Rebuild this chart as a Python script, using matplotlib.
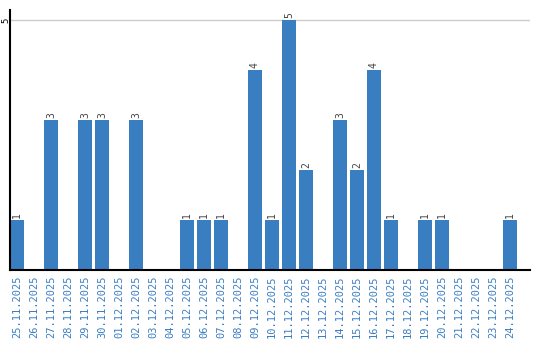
import matplotlib
matplotlib.use("Agg")
import matplotlib.pyplot as plt

dates = ["25.11.2025", "26.11.2025", "27.11.2025", "28.11.2025", "29.11.2025",
         "30.11.2025", "01.12.2025", "02.12.2025", "03.12.2025", "04.12.2025",
         "05.12.2025", "06.12.2025", "07.12.2025", "08.12.2025", "09.12.2025",
         "10.12.2025", "11.12.2025", "12.12.2025", "13.12.2025", "14.12.2025",
         "15.12.2025", "16.12.2025", "17.12.2025", "18.12.2025", "19.12.2025",
         "20.12.2025", "21.12.2025", "22.12.2025", "23.12.2025", "24.12.2025"]
counts = [1, 0, 3, 0, 3, 3, 0, 3, 0, 0,
          1, 1, 1, 0, 4, 1, 5, 2, 0, 3,
          2, 4, 1, 0, 1, 1, 0, 0, 0, 1]
ytick = 5

blue = "#3a7ec2"

fig = plt.figure(figsize=(5.4, 3.4), dpi=100)
ax = fig.add_axes([10/540, 1 - 270/340, 520/540, 260/340])

x = list(range(len(dates)))
ax.bar(x, counts, width=0.82, color=blue, zorder=2)

for xi, v in zip(x, counts):
    if v > 0:
        ax.text(xi, v + 0.04, str(v), rotation=90, ha="center", va="bottom",
                fontsize=7, color="#444444", family="DejaVu Sans Mono")

ax.set_xlim(-0.41, 30.18)
ax.set_ylim(0, 5.2)
ax.set_yticks([ytick])
ax.set_yticklabels([])
# y tick label drawn by hand so it sits in the narrow left margin
ax.text(-4.5/520, ytick, str(ytick), rotation=90, ha="center", va="center",
        fontsize=6.5, family="DejaVu Sans Mono",
        transform=ax.get_yaxis_transform())
ax.axhline(ytick, color="#cccccc", lw=1, zorder=1)
ax.set_xticks(x)
ax.set_xticklabels(dates, rotation=90, fontsize=7.5, color=blue,
                   family="DejaVu Sans Mono")
ax.tick_params(length=0, pad=4)
ax.spines["top"].set_visible(False)
ax.spines["right"].set_visible(False)
ax.spines["left"].set_linewidth(1.5)
ax.spines["bottom"].set_linewidth(1.5)

fig.savefig("out.png", dpi=100)
